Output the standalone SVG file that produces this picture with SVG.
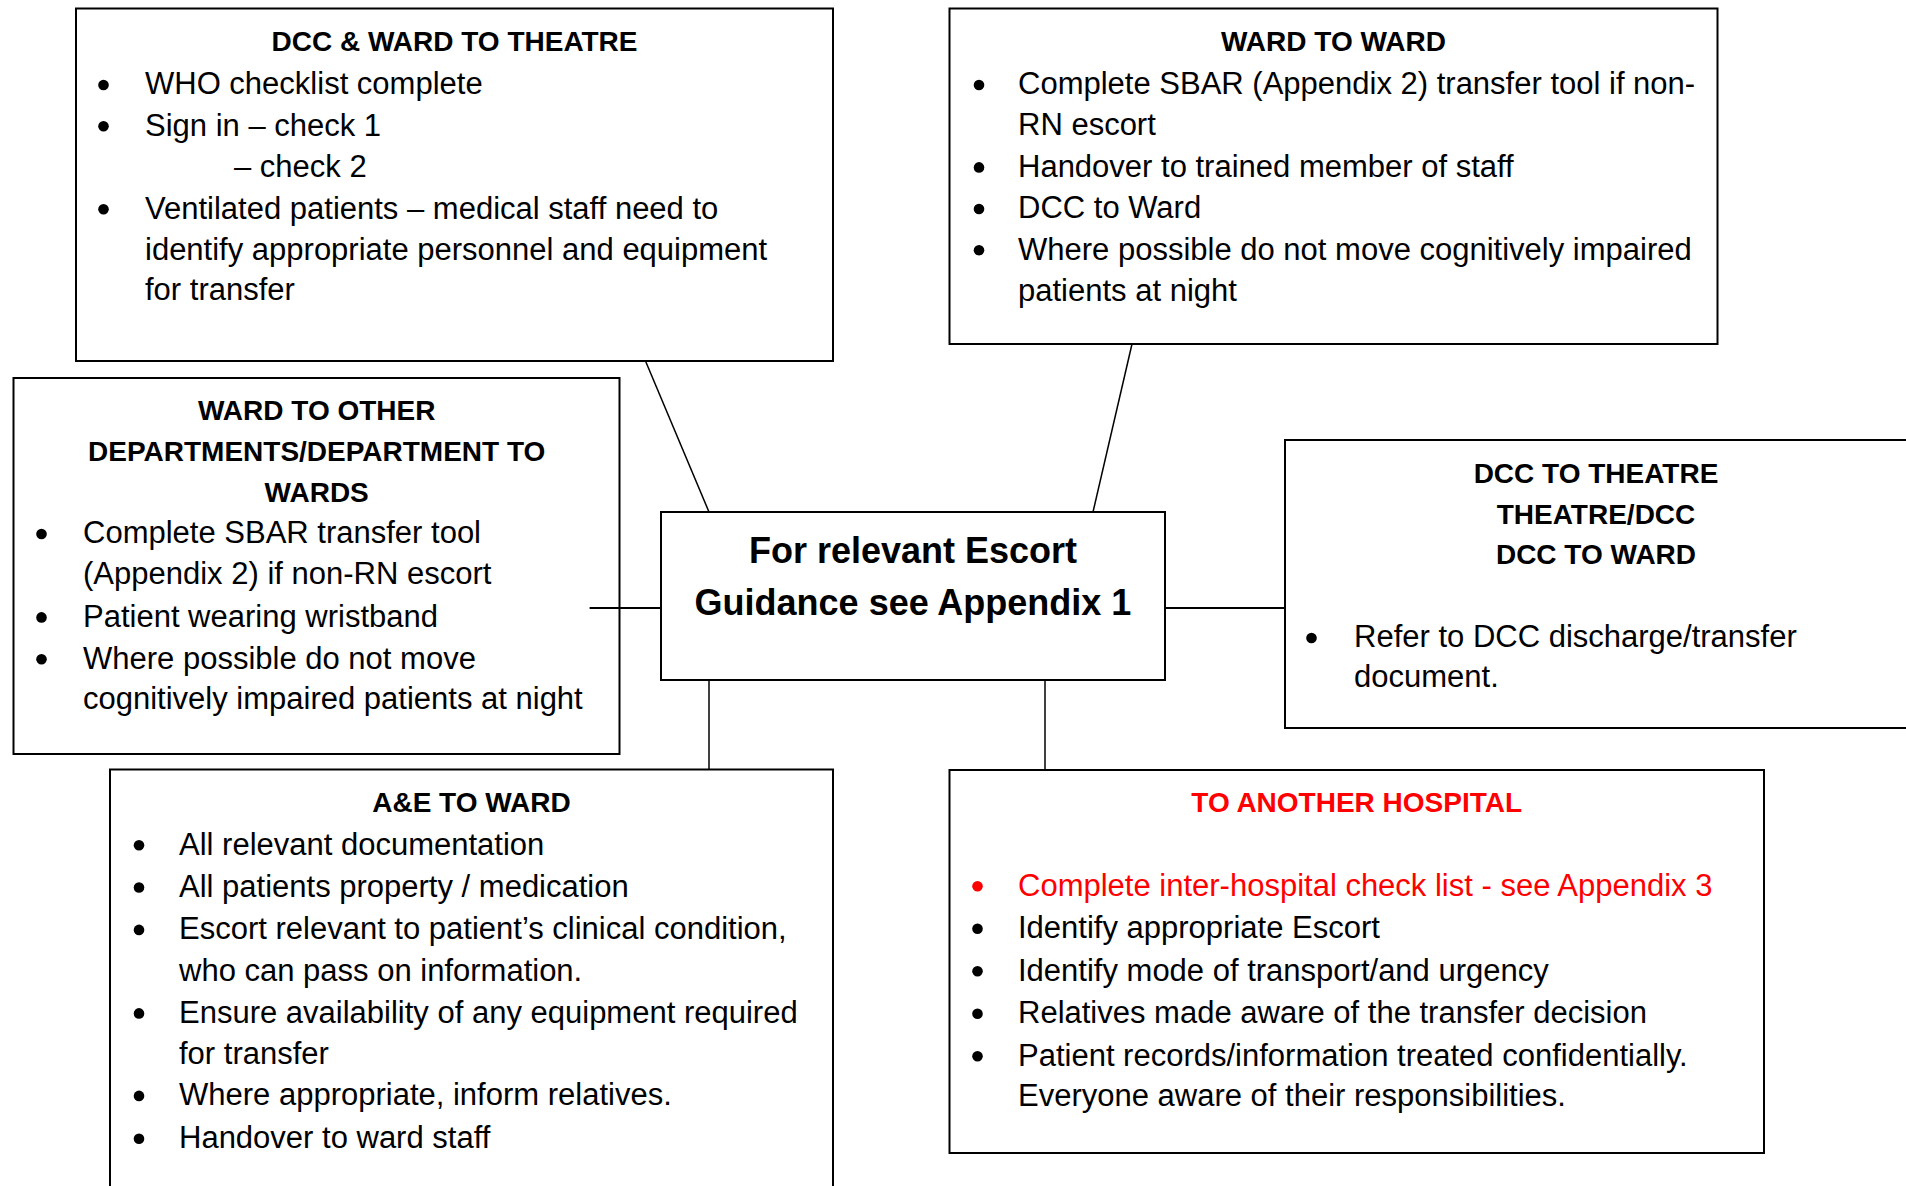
<svg xmlns="http://www.w3.org/2000/svg" width="1906" height="1186" viewBox="0 0 1906 1186">
<style>
.box{fill:#fff;stroke:#000;stroke-width:2}
.con{stroke:#000;stroke-width:1.5;fill:none}
.conh{stroke:#000;stroke-width:2;fill:none}
.dot{fill:#000}
.dotr{fill:#ff0000}
text{font-family:"Liberation Sans",Arial,sans-serif;fill:#000}
.h{font-size:28px;font-weight:bold;text-anchor:middle}
.b{font-size:31px}
.c{font-size:36px;font-weight:bold;text-anchor:middle}
.red{fill:#ff0000}
</style>
<rect width="1906" height="1186" fill="#fff"/>
<g id="dcc-ward-theatre">
<rect class="box" x="76" y="8.5" width="757" height="352.5"/>
<text class="h" x="454.5" y="50.5">DCC &amp; WARD TO THEATRE</text>
<circle class="dot" cx="103.5" cy="85" r="5.3"/><text class="b" x="145" y="94">WHO checklist complete</text>
<circle class="dot" cx="103.5" cy="126.2" r="5.3"/><text class="b" x="145" y="135.5">Sign in – check 1</text>
<text class="b" x="234" y="176.8">– check 2</text>
<circle class="dot" cx="103.5" cy="209.2" r="5.3"/><text class="b" x="145" y="218.5">Ventilated patients – medical staff need to</text>
<text class="b" x="145" y="259.5">identify appropriate personnel and equipment</text>
<text class="b" x="145" y="299.5">for transfer</text>
</g>
<g id="ward-to-ward">
<rect class="box" x="949.5" y="8.5" width="768" height="335.5"/>
<text class="h" x="1333.5" y="50.5">WARD TO WARD</text>
<circle class="dot" cx="979" cy="85" r="5.3"/><text class="b" x="1018" y="94.3">Complete SBAR (Appendix 2) transfer tool if non-</text>
<text class="b" x="1018" y="135.2">RN escort</text>
<circle class="dot" cx="979" cy="167.4" r="5.3"/><text class="b" x="1018" y="176.7">Handover to trained member of staff</text>
<circle class="dot" cx="979" cy="209" r="5.3"/><text class="b" x="1018" y="218.3">DCC to Ward</text>
<circle class="dot" cx="979" cy="250.2" r="5.3"/><text class="b" x="1018" y="259.5">Where possible do not move cognitively impaired</text>
<text class="b" x="1018" y="300.5">patients at night</text>
</g>
<g id="ward-to-other">
<rect class="box" x="13.5" y="378" width="606" height="376"/>
<text class="h" x="316.7" y="419.5">WARD TO OTHER</text>
<text class="h" x="316.7" y="460.8">DEPARTMENTS/DEPARTMENT TO</text>
<text class="h" x="316.7" y="502">WARDS</text>
<circle class="dot" cx="41.5" cy="534" r="5.3"/><text class="b" x="83" y="543.3">Complete SBAR transfer tool</text>
<text class="b" x="83" y="584">(Appendix 2) if non-RN escort</text>
<circle class="dot" cx="41.5" cy="617.4" r="5.3"/><text class="b" x="83" y="626.7">Patient wearing wristband</text>
<circle class="dot" cx="41.5" cy="659.2" r="5.3"/><text class="b" x="83" y="668.5">Where possible do not move</text>
<text class="b" x="83" y="709">cognitively impaired patients at night</text>
</g>
<g id="centre">
<rect class="box" x="661" y="512" width="504" height="168"/>
<text class="c" x="913" y="562.5">For relevant Escort</text>
<text class="c" x="913" y="615">Guidance see Appendix 1</text>
</g>
<g id="dcc-theatre-ward">
<rect class="box" x="1285" y="440" width="630" height="288"/>
<text class="h" x="1596" y="483">DCC TO THEATRE</text>
<text class="h" x="1596" y="523.5">THEATRE/DCC</text>
<text class="h" x="1596" y="564">DCC TO WARD</text>
<circle class="dot" cx="1311.5" cy="638" r="5.3"/><text class="b" x="1354" y="647.3">Refer to DCC discharge/transfer</text>
<text class="b" x="1354" y="686.7">document.</text>
</g>
<g id="ae-to-ward">
<rect class="box" x="110" y="769.5" width="723" height="440"/>
<text class="h" x="471.5" y="811.5">A&amp;E TO WARD</text>
<circle class="dot" cx="139" cy="845.2" r="5.3"/><text class="b" x="179" y="854.5">All relevant documentation</text>
<circle class="dot" cx="139" cy="887.5" r="5.3"/><text class="b" x="179" y="896.8">All patients property / medication</text>
<circle class="dot" cx="139" cy="929.9" r="5.3"/><text class="b" x="179" y="939.2">Escort relevant to patient’s clinical condition,</text>
<text class="b" x="179" y="980.5">who can pass on information.</text>
<circle class="dot" cx="139" cy="1013.4" r="5.3"/><text class="b" x="179" y="1022.7">Ensure availability of any equipment required</text>
<text class="b" x="179" y="1063.5">for transfer</text>
<circle class="dot" cx="139" cy="1095.9" r="5.3"/><text class="b" x="179" y="1105.2">Where appropriate, inform relatives.</text>
<circle class="dot" cx="139" cy="1138.7" r="5.3"/><text class="b" x="179" y="1148">Handover to ward staff</text>
</g>
<g id="another-hospital">
<rect class="box" x="949.5" y="770" width="814.5" height="383"/>
<text class="h red" x="1356.7" y="811.5">TO ANOTHER HOSPITAL</text>
<circle class="dotr" cx="977.5" cy="886.2" r="5.3"/><text class="b red" x="1018" y="895.5">Complete inter-hospital check list - see Appendix 3</text>
<circle class="dot" cx="977.5" cy="928.7" r="5.3"/><text class="b" x="1018" y="938">Identify appropriate Escort</text>
<circle class="dot" cx="977.5" cy="971.2" r="5.3"/><text class="b" x="1018" y="980.5">Identify mode of transport/and urgency</text>
<circle class="dot" cx="977.5" cy="1013.7" r="5.3"/><text class="b" x="1018" y="1023">Relatives made aware of the transfer decision</text>
<circle class="dot" cx="977.5" cy="1056.2" r="5.3"/><text class="b" x="1018" y="1065.5">Patient records/information treated confidentially.</text>
<text class="b" x="1018" y="1105.5">Everyone aware of their responsibilities.</text>
</g>
<g id="connectors">
<path class="con" d="M645.5,361 L709,512"/>
<path class="con" d="M1132,344 L1093,512"/>
<path class="conh" d="M589.6,608 L661,608"/>
<path class="conh" d="M1165,608 L1285,608"/>
<path class="con" d="M709,680 L709,769.5"/>
<path class="con" d="M1045,680 L1045,770"/>
</g>
</svg>
